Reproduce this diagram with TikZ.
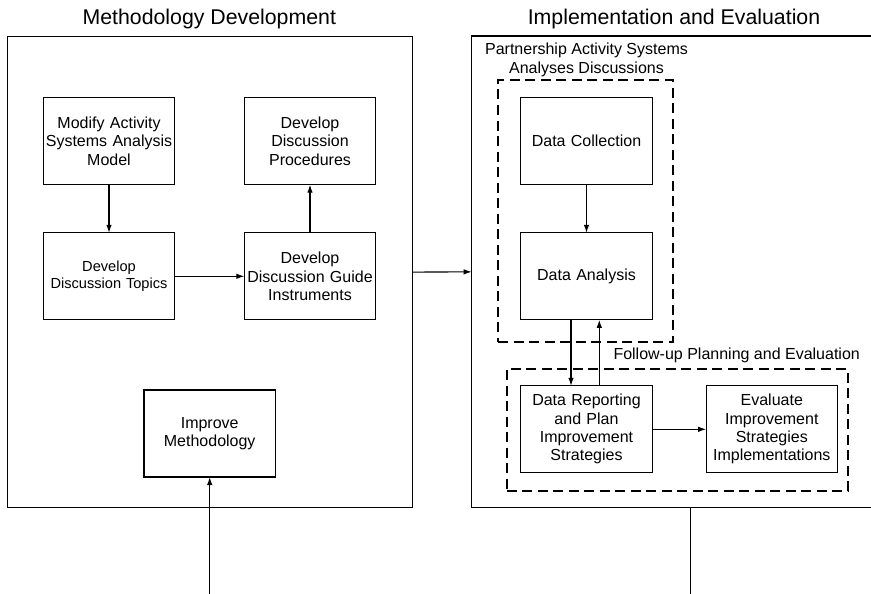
\documentclass[tikz,border=0pt]{standalone}
\usepackage{fontspec}
\setmainfont{Liberation Sans}
\usetikzlibrary{arrows.meta}
\begin{document}
\begin{tikzpicture}[x=1pt,y=-1pt,
  every node/.style={inner sep=0pt,outer sep=0pt},
  proc/.style={draw,line width=1.2pt,minimum width=131.3pt,minimum height=87pt,
    text width=128pt,align=center,font=\fontsize{16}{18.3}\selectfont},
  small/.style={font=\fontsize{14.6}{16.7}\selectfont},
  frame/.style={draw,line width=1.3pt},
  group/.style={draw,line width=2.2pt,dash pattern=on 10pt off 5.5pt},
  label/.style={align=center,font=\fontsize{16}{19}\selectfont},
  title/.style={font=\fontsize{21.3}{24}\selectfont},
  arr/.style={line width=1.1pt,-{Latex[length=8pt,width=5.5pt]}},
  link/.style={line width=1.1pt}]
\useasboundingbox (0,0) rectangle (871,594);

% outer frames
\node[frame,minimum width=405pt,minimum height=471.2pt] (left) at (209.8,272.1) {};
\node[frame,minimum width=420pt,minimum height=471.7pt] (right) at (681.7,271.85) {};
\node[title,anchor=base] (tleft) at (209.3,25) {Methodology Development};
\node[title,anchor=base] (tright) at (674,25) {Implementation and Evaluation};

% methodology development steps
\node[proc] (mod) at (109,141.2) {Modify Activity\\Systems Analysis\\Model};
\node[proc] (procs) at (310,141.2) {Develop\\Discussion\\Procedures};
\node[proc,small] (topics) at (109,276.3) {Develop\\Discussion Topics};
\node[proc] (guide) at (310,276.3) {Develop\\Discussion Guide\\Instruments};
\node[proc] (improve) at (209.7,433.5) {Improve\\Methodology};

\draw[arr] (mod) -- (topics);
\draw[arr] (topics) -- (guide);
\draw[arr] (guide) -- (procs);

% groups on the implementation side
\node[group,minimum width=174.4pt,minimum height=261.7pt] (g1) at (585.5,210.85) {};
\node[group,minimum width=341.3pt,minimum height=122pt] (g2) at (677.35,429.7) {};
\node[label,anchor=base] (g1lab) at (586.5,74) {Partnership Activity Systems\\Analyses Discussions};
\node[label,anchor=base] (g2lab) at (736.7,359.5) {Follow-up Planning and Evaluation};

\node[proc] (dc) at (586.5,141.2) {Data Collection};
\node[proc] (da) at (586.5,276.3) {Data Analysis};
\node[proc] (dr) at (586.5,429.3) {Data Reporting\\and Plan\\Improvement\\Strategies};
\node[proc] (ev) at (771.8,429.3) {Evaluate\\Improvement\\Strategies\\Implementations};

\draw[arr] (dc) -- (da);
\draw[arr] ([xshift=-15.5pt]da.south) -- ([xshift=-15.5pt]dr.north);
\draw[arr] ([xshift=12.8pt]dr.north) -- ([xshift=12.8pt]da.south);
\draw[arr] (dr) -- (ev);

% link between the two phases
\draw[arr] (left.east) -- (right.west);

% feedback loop leaving the page
\coordinate (loopL) at (209.7,594);
\coordinate (loopR) at (690.7,594);
\draw[arr] (loopL) -- (improve.south);
\draw[link] (loopR |- right.south) -- (loopR);
\end{tikzpicture}
\end{document}
